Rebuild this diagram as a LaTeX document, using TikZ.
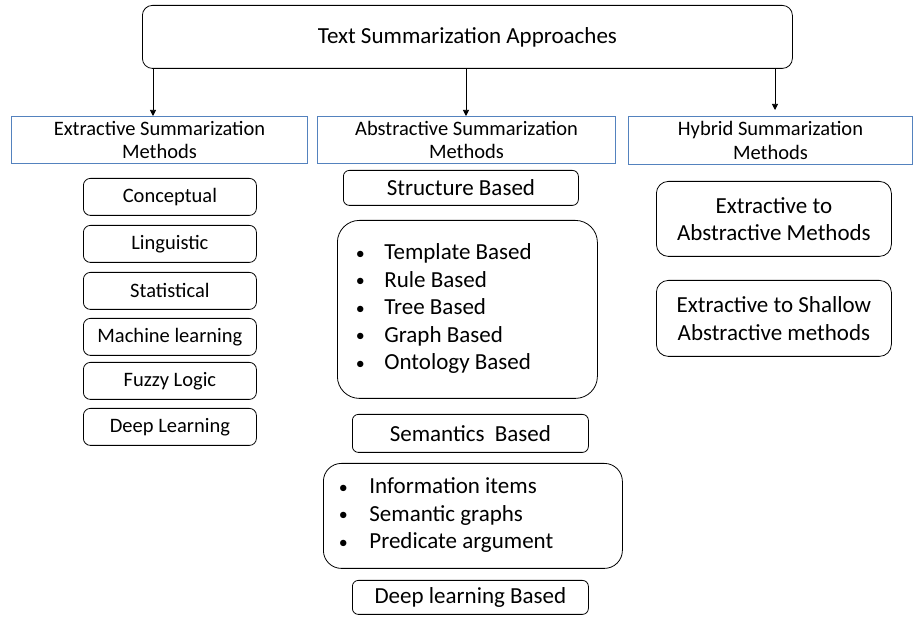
\documentclass[tikz,border=0pt]{standalone}
\usepackage{fontspec}
\setmainfont{Carlito}
\usetikzlibrary{arrows.meta}
\definecolor{hdrblue}{RGB}{84,130,190}
\newcommand{\bigtext}{\fontsize{23}{27.5}\selectfont}
\newcommand{\smalltext}{\fontsize{20.5}{23.5}\selectfont}
% bullet of a list line: a small dot centred in a slot of width #1, then a gap #2
\newcommand{\itm}[2]{\makebox[#1][c]{\raisebox{0.5pt}{\fontsize{18}{18}\selectfont •}}\hspace{#2}}
\tikzset{
  rbox/.style={draw=black, line width=0.8pt, rounded corners=#1,
    align=center, inner sep=0pt, anchor=north west},
  hdrbox/.style={draw=hdrblue, line width=1pt, align=center,
    inner sep=0pt, anchor=north west, font=\smalltext},
  arr/.style={draw=black, line width=0.7pt,
    -{Triangle[length=6pt,width=6pt]}},
}
\begin{document}
\begin{tikzpicture}[x=1pt,y=-1pt]
\useasboundingbox (0,0) rectangle (914,617);
\fill[white] (0,0) rectangle (914,617);

% root
\node[rbox=10pt, minimum width=650pt, minimum height=63pt, font=\bigtext]
  (top) at (142,5) {Text Summarization Approaches};

% three families
\node[hdrbox, minimum width=296pt, minimum height=47pt]
  (ext) at (11,116) {Extractive Summarization\\Methods};
\node[hdrbox, minimum width=298pt, minimum height=47pt]
  (abs) at (317,116) {Abstractive Summarization\\Methods};
\node[hdrbox, minimum width=284pt, minimum height=48pt]
  (hyb) at (628,116) {Hybrid Summarization\\Methods};

\draw[arr] (top.south -| 153,0) -- (ext.north -| 153,0);
\draw[arr] (top.south -| 466,0) -- (abs.north -| 466,0);
\draw[arr] (top.south -| 775,0) -- ([yshift=6pt]hyb.north -| 775,0);

% extractive methods
\tikzset{lbox/.style={rbox=7pt, minimum width=173pt, minimum height=37pt, font=\smalltext}}
\node[lbox] (concept) at (83,178) {Conceptual};
\node[lbox] (ling)    at (83,225) {Linguistic};
\node[lbox] (stat)    at (83,272) {Statistical};
\node[lbox] (ml)      at (83,318) {Machine learning};
\node[lbox] (fuzzy)   at (83,362) {Fuzzy Logic};
\node[lbox] (dl)      at (83,408) {Deep Learning};

% abstractive methods
\node[rbox=6pt, minimum width=235pt, minimum height=35pt, font=\bigtext]
  (struct) at (343,170) {Structure Based};
\node[rbox=22pt, minimum width=260pt, minimum height=178pt, font=\bigtext,
  inner xsep=13pt]
  (structlist) at (337,220)
  {\makebox[234pt][l]{\raisebox{-3pt}{\begin{tabular}{@{}l@{}}
    \itm{20pt}{14pt}Template Based\\
    \itm{20pt}{14pt}Rule Based\\
    \itm{20pt}{14pt}Tree Based\\
    \itm{20pt}{14pt}Graph Based\\
    \itm{20pt}{14pt}Ontology Based
   \end{tabular}}}};
\node[rbox=6pt, minimum width=236pt, minimum height=38pt, font=\bigtext]
  (sem) at (352,414) {Semantics~ Based};
\node[rbox=18pt, minimum width=299pt, minimum height=105pt, font=\bigtext,
  inner xsep=10pt]
  (semlist) at (323,463)
  {\makebox[279pt][l]{\raisebox{-2pt}{\begin{tabular}{@{}l@{}}
    \itm{20pt}{16pt}Information items\\
    \itm{20pt}{16pt}Semantic graphs\\
    \itm{20pt}{16pt}Predicate argument
   \end{tabular}}}};
\node[rbox=6pt, minimum width=236pt, minimum height=34pt, font=\bigtext]
  (deep) at (352,580) {Deep learning Based};

% hybrid methods
\node[rbox=12pt, minimum width=235pt, minimum height=75pt, font=\bigtext]
  (e2a) at (656,181) {Extractive to\\Abstractive Methods};
\node[rbox=12pt, minimum width=235pt, minimum height=76pt, font=\bigtext]
  (e2s) at (656,280) {Extractive to Shallow\\Abstractive methods};
\end{tikzpicture}
\end{document}
